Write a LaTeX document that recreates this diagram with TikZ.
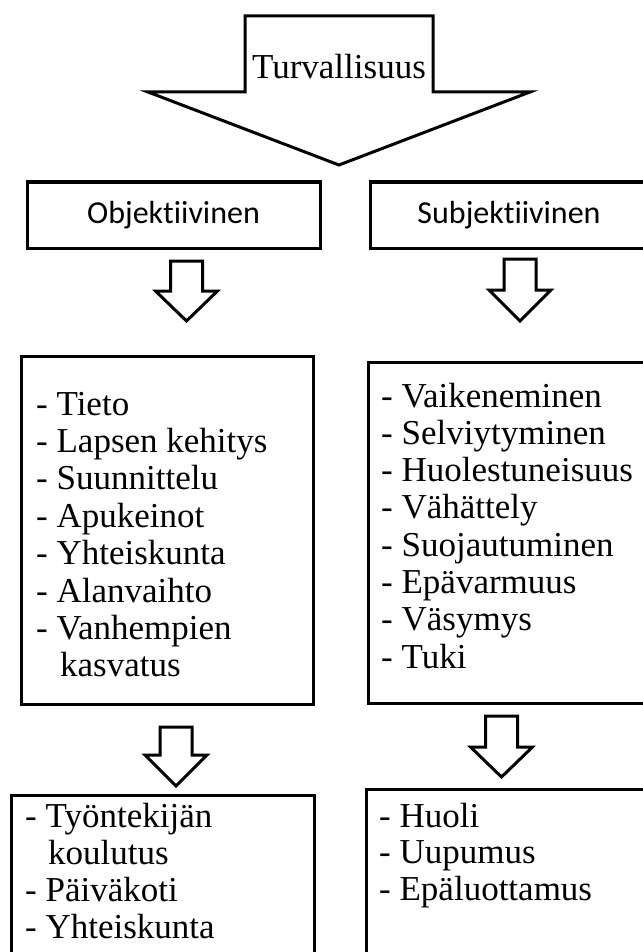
\documentclass[tikz,border=0pt]{standalone}
\usepackage{fontspec}
\setmainfont{Liberation Serif}
\newfontfamily\headfont[Ligatures=NoCommon]{Carlito}
\usepackage{tikz}
\newcommand{\itemfont}{\fontsize{35}{37.4}\selectfont}
\newcommand{\titlefont}{\headfont\fontsize{32}{36}\selectfont}
% block arrow pointing down: centre x, top, shoulder, tip
\newcommand{\blockdown}[4]{%
	\draw[blockarrow] (#1-16,#2) -- (#1+16,#2) -- (#1+16,#3) -- (#1+31,#3)
		-- (#1,#4) -- (#1-31,#3) -- (#1-16,#3) -- cycle;}

\tikzset{
	box/.style={draw, line width=3pt, inner sep=0pt},
	item/.style={anchor=base west, inner sep=0pt, font=\itemfont},
	blockarrow/.style={draw, line width=3pt, line join=miter, fill=white},
}

\begin{document}
\begin{tikzpicture}[x=1pt, y=-1pt]
	\useasboundingbox (0,0) rectangle (642,952);

	% main arrow
	\draw[blockarrow] (245,16) -- (433,16) -- (433,92) -- (530,92) -- (339,165)
		-- (148,92) -- (245,92) -- cycle;
	\node[anchor=base, inner sep=0pt, font=\itemfont] (safety) at (339,79) {Turvallisuus};

	% headings
	\node[box, minimum width=293pt, minimum height=66pt, font=\titlefont] (obj) at (173.5,215) {Objektiivinen};
	\node[box, minimum width=278pt, minimum height=66pt, font=\titlefont] (subj) at (509,215) {Subjektiivinen};

	\blockdown{186.5}{261}{291}{321}
	\blockdown{520}{259}{290}{321}

	% lists
	\node[box, minimum width=292pt, minimum height=348pt] (objlist) at (167,530) {};
	\node[box, minimum width=280pt, minimum height=341pt] (subjlist) at (508,532.5) {};

	\foreach \txt [count=\i] in {- Tieto, - Lapsen kehitys, - Suunnittelu, - Apukeinot,
		- Yhteiskunta, - Alanvaihto, - Vanhempien, \hspace*{24pt}kasvatus}
		\node[item] (objitem\i) at (36,{415+37.4*(\i-1)}) {\txt};

	\foreach \txt [count=\i] in {- Vaikeneminen, - Selviytyminen, - Huolestuneisuus, - Vähättely,
		- Suojautuminen, - Epävarmuus, - Väsymys, - Tuki}
		\node[item] (subjitem\i) at (381,{407+37.3*(\i-1)}) {\txt};

	\blockdown{176}{727}{755}{786}
	\blockdown{501.5}{716}{747}{777}

	% results
	\node[box, minimum width=303pt, minimum height=165pt] (objres) at (162.5,877.5) {};
	\node[box, minimum width=282pt, minimum height=171pt] (subjres) at (507,874.5) {};

	\foreach \txt [count=\i] in {- Työntekijän, \hspace*{23pt}koulutus, - Päiväkoti, - Yhteiskunta}
		\node[item] (objres\i) at (25,{827+37*(\i-1)}) {\txt};

	\foreach \txt [count=\i] in {- Huoli, - Uupumus, - Epäluottamus}
		\node[item] (subjres\i) at (379,{827+36.5*(\i-1)}) {\txt};
\end{tikzpicture}
\end{document}
